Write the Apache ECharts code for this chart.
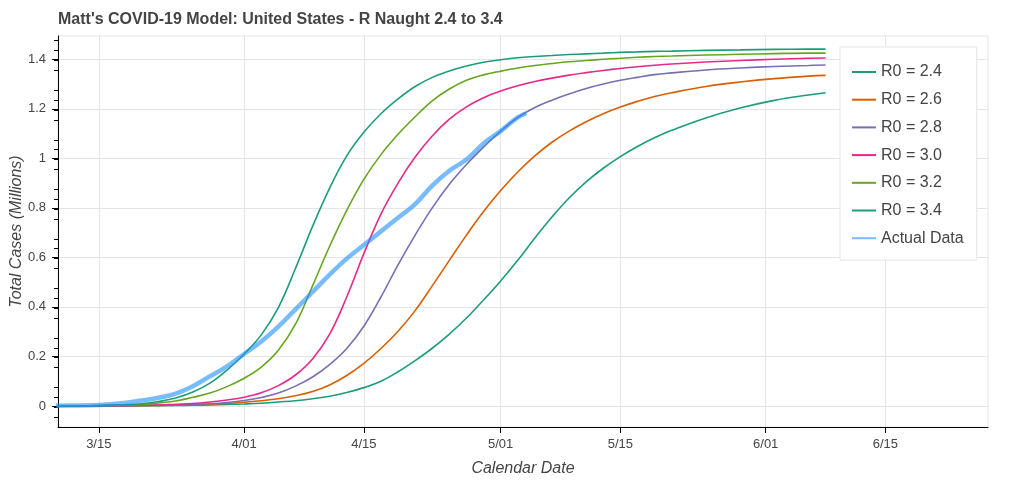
<!DOCTYPE html>
<html>
<head>
<meta charset="utf-8">
<title>Matt's COVID-19 Model</title>
<script src="https://cdn.jsdelivr.net/npm/echarts@6/dist/echarts.min.js"></script>
<style>
  html, body { margin: 0; padding: 0; background: #fff; }
  #chart { width: 1024px; height: 482px; }
</style>
</head>
<body>
<div id="chart"></div>
<script>
// model output dates, shared by every R0 curve
const modelDates = [
  '2020-03-10', '2020-03-14', '2020-03-18', '2020-03-20', '2020-03-22', '2020-03-24',
  '2020-03-26', '2020-03-28', '2020-03-30', '2020-04-01', '2020-04-03', '2020-04-05',
  '2020-04-07', '2020-04-09', '2020-04-11', '2020-04-13', '2020-04-15', '2020-04-17',
  '2020-04-19', '2020-04-21', '2020-04-23', '2020-04-25', '2020-04-27', '2020-04-29',
  '2020-05-01', '2020-05-03', '2020-05-05', '2020-05-07', '2020-05-09', '2020-05-11',
  '2020-05-13', '2020-05-15', '2020-05-17', '2020-05-19', '2020-05-21', '2020-05-25',
  '2020-05-29', '2020-06-02', '2020-06-06', '2020-06-08'
]

// total cases (millions) for each R0
const r0_24 = [0, 0, 0.0005, 0.001, 0.001, 0.002, 0.003, 0.004, 0.006,
  0.008, 0.011, 0.016, 0.021, 0.029, 0.039, 0.054, 0.074, 0.10, 0.138, 0.183, 0.233, 0.29, 0.355, 0.428,
  0.505, 0.588, 0.678, 0.763, 0.84, 0.905, 0.96, 1.007, 1.048, 1.083, 1.113, 1.163, 1.203,
  1.234, 1.256, 1.265]
const r0_26 = [0, 0, 0.001, 0.0015, 0.002, 0.003, 0.005, 0.007, 0.01,
  0.015, 0.021, 0.029, 0.041, 0.058, 0.085, 0.123, 0.172, 0.232, 0.302, 0.385, 0.485, 0.588, 0.69, 0.785,
  0.87, 0.945, 1.01, 1.065, 1.11, 1.148, 1.18, 1.207, 1.23, 1.25, 1.265, 1.29, 1.308,
  1.322, 1.332, 1.335]
const r0_28 = [0, 0.0005, 0.001, 0.002, 0.003, 0.004, 0.006, 0.009, 0.014,
  0.022, 0.034, 0.052, 0.08, 0.117, 0.167, 0.232, 0.322, 0.44, 0.57, 0.69, 0.80, 0.895, 0.975, 1.045,
  1.11, 1.165, 1.205, 1.235, 1.26, 1.282, 1.30, 1.315, 1.327, 1.338, 1.345, 1.357, 1.365,
  1.371, 1.375, 1.377]
const r0_30 = [0, 0.0005, 0.002, 0.003, 0.004, 0.007, 0.01, 0.016, 0.024,
  0.035, 0.053, 0.082, 0.125, 0.19, 0.29, 0.44, 0.615, 0.775, 0.90, 1.005, 1.09, 1.158, 1.208, 1.245,
  1.272, 1.293, 1.31, 1.324, 1.336, 1.346, 1.355, 1.363, 1.37, 1.376, 1.381, 1.389, 1.395,
  1.40, 1.404, 1.405]
const r0_32 = [0, 0.001, 0.004, 0.006, 0.012, 0.02, 0.035, 0.052, 0.078,
  0.112, 0.157, 0.225, 0.33, 0.485, 0.645, 0.79, 0.915, 1.015, 1.097, 1.168, 1.232, 1.28, 1.315, 1.337,
  1.352, 1.365, 1.375, 1.383, 1.39, 1.395, 1.40, 1.404, 1.408, 1.411, 1.413, 1.417, 1.42,
  1.423, 1.425, 1.425]
const r0_34 = [0, 0.001, 0.005, 0.009, 0.018, 0.032, 0.056, 0.092, 0.145,
  0.21, 0.287, 0.397, 0.555, 0.725, 0.88, 1.01, 1.105, 1.18, 1.24, 1.29, 1.327, 1.353, 1.373, 1.388,
  1.398, 1.406, 1.411, 1.415, 1.419, 1.422, 1.425, 1.428, 1.43, 1.432, 1.433, 1.436, 1.438,
  1.44, 1.441, 1.441]

// reported cases
const actualDates = [
  '2020-03-10', '2020-03-12', '2020-03-14', '2020-03-16', '2020-03-18', '2020-03-20',
  '2020-03-22', '2020-03-24', '2020-03-26', '2020-03-28', '2020-03-30', '2020-04-01',
  '2020-04-03', '2020-04-05', '2020-04-07', '2020-04-09', '2020-04-11', '2020-04-13',
  '2020-04-15', '2020-04-17', '2020-04-19', '2020-04-21', '2020-04-23', '2020-04-25',
  '2020-04-27', '2020-04-29', '2020-05-01', '2020-05-03', '2020-05-04'
]
const actualCases = [0.001, 0.002, 0.003, 0.006, 0.012, 0.022, 0.033, 0.05, 0.08, 0.12, 0.16, 0.21,
  0.26, 0.32, 0.39, 0.46, 0.53, 0.595, 0.65, 0.705, 0.76, 0.815, 0.89, 0.95,
  0.995, 1.06, 1.11, 1.165, 1.182]

// axis ticks
const dateTicks = ['2020-03-15', '2020-04-01', '2020-04-15', '2020-05-01', '2020-05-15', '2020-06-01', '2020-06-15']
const caseTicks = [0, 0.2, 0.4, 0.6, 0.8, 1, 1.2, 1.4]

const modelLines = [
  { name: 'R0 = 2.4', values: r0_24, color: '#1b9e77' },
  { name: 'R0 = 2.6', values: r0_26, color: '#d95f02' },
  { name: 'R0 = 2.8', values: r0_28, color: '#7570b3' },
  { name: 'R0 = 3.0', values: r0_30, color: '#e7298a' },
  { name: 'R0 = 3.2', values: r0_32, color: '#66a61e' },
  { name: 'R0 = 3.4', values: r0_34, color: '#1b9e77' }
]

// dates are read as local midnight so the labels line up whatever the timezone
function toTime (s) {
  const p = s.split('-').map(Number)
  return new Date(p[0], p[1] - 1, p[2], p[3] || 0, p[4] || 0).getTime()
}

const font = '"Liberation Sans", Arial, Helvetica, sans-serif'
const textColor = '#444444'

const series = modelLines.map(m => ({
  name: m.name,
  type: 'line',
  data: modelDates.map((d, i) => [toTime(d), m.values[i]]),
  symbol: 'none',
  smooth: 0.4,
  lineStyle: { width: 1.6, color: m.color },
  itemStyle: { color: m.color },
  emphasis: { disabled: true }
}))
series.push({
  name: 'Actual Data',
  type: 'line',
  data: actualDates.map((d, i) => [toTime(d), actualCases[i]]),
  symbol: 'none',
  smooth: 0.4,
  lineStyle: { width: 4.5, color: 'rgba(30,144,255,0.6)' },
  itemStyle: { color: 'rgba(30,144,255,0.6)' },
  emphasis: { disabled: true },
  z: 5
})

const chart = echarts.init(document.getElementById('chart'), null, { renderer: 'canvas' })
chart.setOption({
  animation: false,
  textStyle: { fontFamily: font },
  title: {
    text: "Matt's COVID-19 Model: United States - R Naught 2.4 to 3.4",
    left: 58,
    top: 12,
    padding: 0,
    textStyle: { fontSize: 16, fontWeight: 'bold', color: textColor, fontFamily: font }
  },
  grid: {
    left: 58, right: 36, top: 36, bottom: 55,
    containLabel: false,
    outerBoundsMode: 'none',
    show: true, borderColor: '#e5e5e5', borderWidth: 1
  },
  legend: {
    orient: 'vertical',
    left: 840,
    top: 47,
    padding: [17, 13, 14, 11],
    backgroundColor: '#ffffff',
    borderColor: '#e5e5e5',
    borderWidth: 1,
    itemWidth: 24,
    itemHeight: 14,
    itemGap: 11.7,
    itemStyle: { opacity: 0 },
    textStyle: { fontSize: 16, color: textColor, fontFamily: font, lineHeight: 16 },
    data: series.map(s => s.name)
  },
  xAxis: {
    type: 'value',
    min: toTime('2020-03-10-5-30'),
    max: toTime('2020-06-27'),
    name: 'Calendar Date',
    nameLocation: 'middle',
    nameGap: 34,
    nameMoveOverlap: false,
    nameTextStyle: { fontSize: 16, fontStyle: 'italic', color: textColor, fontFamily: font },
    axisLine: { show: true, onZero: false, lineStyle: { color: '#000', width: 1 } },
    axisTick: { show: true, length: 6, lineStyle: { color: '#000' }, customValues: dateTicks.map(toTime) },
    axisLabel: {
      margin: 11,
      fontSize: 13,
      color: textColor,
      customValues: dateTicks.map(toTime),
      formatter: v => {
        const d = new Date(v)
        return (d.getMonth() + 1) + '/' + String(d.getDate()).padStart(2, '0')
      }
    },
    splitLine: { show: true, lineStyle: { color: '#e5e5e5', width: 1 } }
  },
  yAxis: {
    type: 'value',
    min: -0.085,
    max: 1.494,
    interval: 0.2,
    name: 'Total Cases (Millions)',
    nameLocation: 'middle',
    nameGap: 33,
    nameMoveOverlap: false,
    nameTextStyle: { fontSize: 16, fontStyle: 'italic', color: textColor, fontFamily: font },
    axisLine: { show: true, onZero: false, lineStyle: { color: '#000', width: 1 } },
    axisTick: { show: true, length: 6, lineStyle: { color: '#000' }, customValues: caseTicks },
    minorTick: { show: true, splitNumber: 5, length: 4, lineStyle: { color: '#000' } },
    axisLabel: {
      margin: 12,
      fontSize: 13,
      color: textColor,
      customValues: caseTicks,
      formatter: v => String(+(+v).toFixed(2))
    },
    splitLine: { show: true, lineStyle: { color: '#e5e5e5', width: 1 } }
  },
  series: series
})
</script>
</body>
</html>
